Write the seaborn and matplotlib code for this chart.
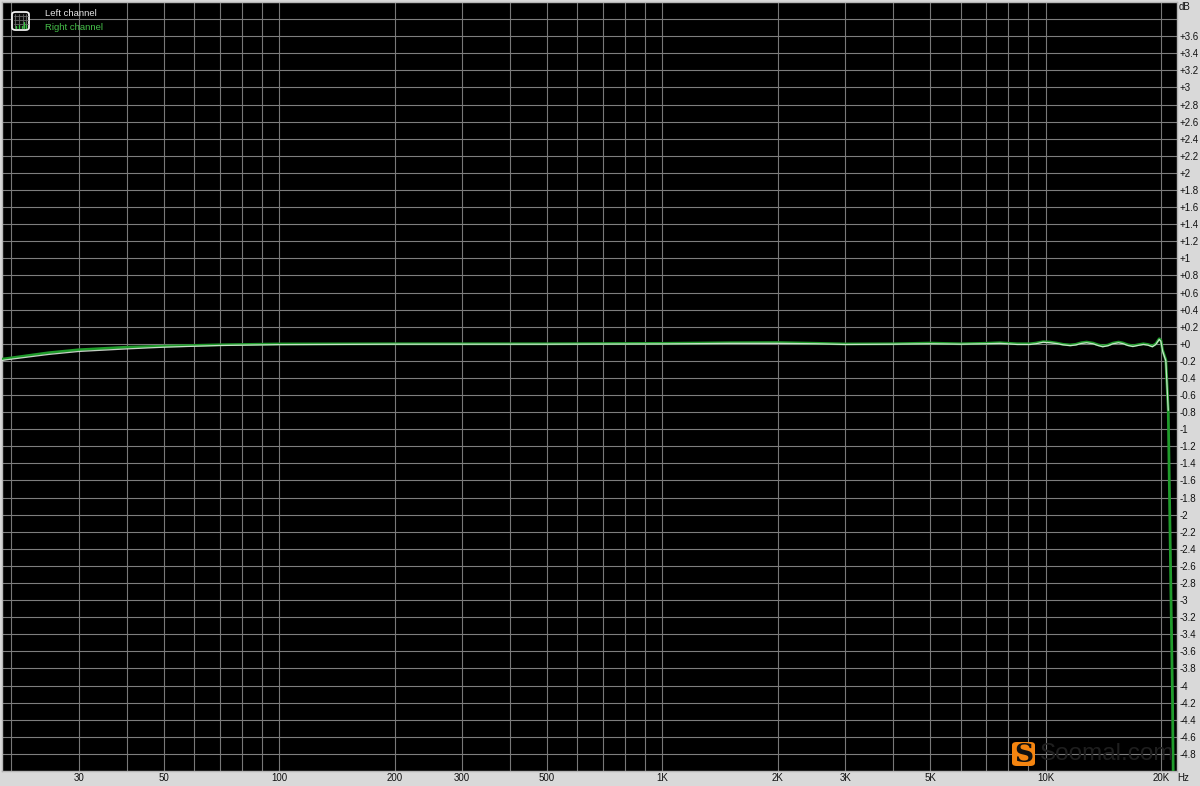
import matplotlib
matplotlib.use('Agg')
import matplotlib.pyplot as plt
from matplotlib.patches import FancyBboxPatch
from matplotlib.ticker import FixedLocator, FixedFormatter, NullLocator
import pandas as pd
import seaborn as sns

# ---------------------------
# Data
# ---------------------------
freq_hz = [18.9, 20, 25, 30, 40, 50, 70, 100, 200, 500, 1000, 1500, 2000, 2500, 3000, 4000,
           5000, 6000, 7000, 7600, 8430, 9110, 9440, 9850, 10270, 10700, 11100, 11600, 12000,
           12400, 12800, 13300, 13700, 14100, 14550, 15000, 15500, 15900, 16400, 16900, 17400,
           18000, 18500, 19000, 19400, 19800, 20000, 20200, 20600, 20900, 21450, 21550]
right_db = [-0.18, -0.165, -0.105, -0.07, -0.04, -0.028, -0.012, -0.002, 0.0, 0.0, 0.005,
            0.012, 0.014, 0.006, -0.002, 0.0, 0.008, 0.0, 0.006, 0.012, 0.0, 0.0, 0.008,
            0.024, 0.02, 0.008, -0.006, -0.014, -0.006, 0.012, 0.02, 0.008, -0.012, -0.026,
            -0.015, 0.008, 0.02, 0.01, -0.012, -0.024, -0.012, 0.0, -0.008, -0.026, 0.0,
            0.058, 0.04, -0.075, -0.19, -0.77, -4.2, -5.2]
# the white trace is only visible down to about -0.8 dB, the green one hides it below that
left_db = [-0.195, -0.18, -0.125, -0.09, -0.06, -0.04, -0.02, -0.01, -0.005, -0.005, -0.002,
           0.005, 0.005, 0.0, -0.008, -0.005, 0.0, -0.005, 0.0, 0.005, -0.008, -0.008, 0.0,
           0.018, 0.012, 0.002, -0.012, -0.022, -0.014, 0.004, 0.012, 0.0, -0.02, -0.035,
           -0.023, 0.0, 0.012, 0.002, -0.02, -0.032, -0.02, -0.008, -0.016, -0.035, -0.008,
           0.05, 0.03, -0.085, -0.2, -0.78]

x_grid = [20, 30, 40, 50, 60, 70, 80, 90, 100, 200, 300, 400, 500, 600, 700, 800, 900,
          1000, 2000, 3000, 4000, 5000, 6000, 7000, 8000, 9000, 10000, 20000]
x_tick_vals = [30, 50, 100, 200, 300, 500, 1000, 2000, 3000, 5000, 10000, 20000]
x_tick_labels = ['30', '50', '100', '200', '300', '500', '1K', '2K', '3K', '5K', '10K', '20K']

y_grid = [round(-4.8 + i * 0.2, 1) for i in range(44)]
y_tick_labels = ['+3.6', '+3.4', '+3.2', '+3', '+2.8', '+2.6', '+2.4', '+2.2', '+2', '+1.8',
                 '+1.6', '+1.4', '+1.2', '+1', '+0.8', '+0.6', '+0.4', '+0.2', '+0',
                 '-0.2', '-0.4', '-0.6', '-0.8', '-1', '-1.2', '-1.4', '-1.6', '-1.8', '-2',
                 '-2.2', '-2.4', '-2.6', '-2.8', '-3', '-3.2', '-3.4', '-3.6', '-3.8', '-4',
                 '-4.2', '-4.4', '-4.6', '-4.8']

df_right = pd.DataFrame({'freq': freq_hz, 'db': right_db})
df_left = pd.DataFrame({'freq': freq_hz[:len(left_db)], 'db': left_db})

# ---------------------------
# Figure setup
# ---------------------------
sns.set_style('dark')
plt.rcParams['font.family'] = ['Liberation Sans', 'DejaVu Sans']

W, H = 1200, 786
BG = '#d9d9d9'
GREEN = '#1f9c2b'

fig = plt.figure(figsize=(W / 100, H / 100), dpi=100, facecolor=BG)
ax = fig.add_axes([1.5 / W, 1 - 771 / H, (1177 - 1.5) / W, (771 - 2) / H], facecolor='black')

ax.set_xscale('log')
ax.set_xlim(18.85, 22030)
ax.set_ylim(-5, 4)

# ---------------------------
# Grid and ticks
# ---------------------------
for f in x_grid:
    ax.axvline(f, color='#787878', linewidth=0.8, zorder=1)
for v in y_grid:
    ax.axhline(v, color='#7e7e7e', linewidth=0.8, zorder=1)

ax.grid(False)
ax.xaxis.set_major_locator(FixedLocator(x_tick_vals))
ax.xaxis.set_major_formatter(FixedFormatter(x_tick_labels))
ax.xaxis.set_minor_locator(NullLocator())
ax.yaxis.tick_right()
ax.yaxis.set_major_locator(FixedLocator([round(3.6 - i * 0.2, 1) for i in range(43)]))
ax.yaxis.set_major_formatter(FixedFormatter(y_tick_labels))
ax.tick_params(axis='x', length=0, pad=1.5, labelsize=7, colors='#111111')
ax.tick_params(axis='y', length=0, pad=2, labelsize=7, colors='#111111')
for spine in ax.spines.values():
    spine.set_color('#b5b5b5')
    spine.set_linewidth(1)

# ---------------------------
# Channel curves
# ---------------------------
sns.lineplot(data=df_right, x='freq', y='db', ax=ax, color=GREEN, linewidth=2.0,
             estimator=None, sort=False, zorder=3)
sns.lineplot(data=df_left, x='freq', y='db', ax=ax, color='#e4efe4', linewidth=0.9, alpha=0.85,
             estimator=None, sort=False, zorder=4)
ax.set_xlabel('')
ax.set_ylabel('')


def fx(px):
    return px / W


def fy(py):
    return 1 - py / H


# ---------------------------
# Legend text and icon
# ---------------------------
fig.text(fx(45), fy(13), 'Left channel', color='#e6e6e6', fontsize=6.8, va='center', zorder=6)
fig.text(fx(45), fy(27), 'Right channel', color='#46c04a', fontsize=6.8, va='center', zorder=6)

fig.add_artist(FancyBboxPatch((fx(12), fy(30)), 17 / W, 18 / H,
                              boxstyle='round,pad=0,rounding_size=0.003',
                              transform=fig.transFigure, facecolor='#0a0a0a',
                              edgecolor='#f0f0f0', linewidth=1.3, zorder=6))
for px in (15, 19, 23, 26):
    fig.add_artist(plt.Line2D([fx(px)] * 2, [fy(14), fy(28)], color='#6a6a6a', linewidth=0.6, zorder=7))
for py in (16, 20, 24):
    fig.add_artist(plt.Line2D([fx(14), fx(28)], [fy(py)] * 2, color='#6a6a6a', linewidth=0.6, zorder=7))
for px, top in ((16, 26), (19, 25), (22, 26), (24, 22), (26, 25)):
    fig.add_artist(plt.Line2D([fx(px)] * 2, [fy(28), fy(top)], color='#35c040', linewidth=1, zorder=8))

# ---------------------------
# Axis units and watermark
# ---------------------------
fig.text(fx(1179), fy(7), 'dB', color='#111111', fontsize=7, va='center')
fig.text(fx(1177), fy(778), 'Hz', color='#111111', fontsize=7, va='center')

fig.text(fx(1040), fy(754), 'Soomal.com', color='#1f1f1f', fontsize=17.5, va='center', zorder=5)
fig.add_artist(FancyBboxPatch((fx(1012), fy(766)), 23 / W, 24 / H,
                              boxstyle='round,pad=0,rounding_size=0.004',
                              transform=fig.transFigure, facecolor='#f58510',
                              edgecolor='none', zorder=6))
fig.text(fx(1023.5), fy(754), 'S', color='#111111', fontsize=19, fontweight='bold',
         family='DejaVu Serif', ha='center', va='center', zorder=7)

fig.savefig('out.png', dpi=100, facecolor=BG)
